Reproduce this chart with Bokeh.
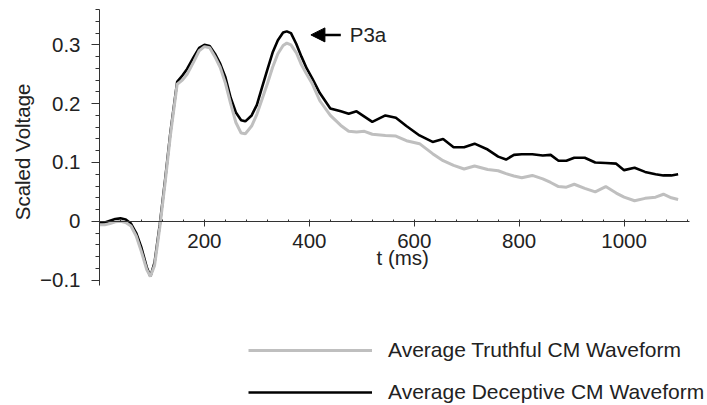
from bokeh.plotting import figure
from bokeh.models import FixedTicker, Legend, LegendItem, Arrow, NormalHead, Label, Title
from bokeh.embed import file_html
from bokeh.resources import INLINE

# ---- data ----
t_ms = [0, 10, 20, 30, 40, 50, 60, 70, 80, 90, 97, 105, 115, 125, 135, 148, 158, 167,
        180, 190, 200, 210, 220, 230, 240, 250, 260, 270, 278, 290, 300, 310, 320, 330,
        340, 350, 357, 365, 375, 385, 395, 405, 420, 440, 460, 475, 490, 505, 520, 545,
        565, 585, 610, 635, 655, 675, 695, 715, 740, 760, 775, 790, 805, 825, 845, 860,
        875, 890, 905, 925, 945, 965, 985, 1000, 1020, 1040, 1060, 1075, 1090, 1103]

deceptive = [-0.003, -0.002, 0.001, 0.004, 0.005, 0.003, -0.004, -0.020, -0.045, -0.078,
             -0.094, -0.070, -0.005, 0.070, 0.150, 0.237, 0.248, 0.259,
             0.280, 0.295, 0.300, 0.298, 0.285, 0.268, 0.245, 0.210, 0.185, 0.172, 0.170,
             0.180, 0.198, 0.228, 0.258, 0.287,
             0.308, 0.321, 0.323, 0.320, 0.302, 0.280, 0.260, 0.244, 0.218, 0.192, 0.187,
             0.183, 0.187, 0.178, 0.169, 0.180,
             0.176, 0.162, 0.146, 0.135, 0.140, 0.126, 0.126, 0.132, 0.122, 0.110, 0.105,
             0.113, 0.114, 0.114, 0.112, 0.113,
             0.103, 0.103, 0.108, 0.108, 0.100, 0.099, 0.098, 0.087, 0.091, 0.084, 0.080,
             0.078, 0.078, 0.080]

truthful = [-0.006, -0.006, -0.004, -0.001, 0.000, -0.002, -0.008, -0.025, -0.052, -0.082,
            -0.094, -0.075, -0.010, 0.065, 0.145, 0.233, 0.240, 0.250,
            0.272, 0.290, 0.297, 0.295, 0.280, 0.262, 0.235, 0.200, 0.168, 0.150, 0.149,
            0.162, 0.182, 0.208, 0.234, 0.262,
            0.285, 0.299, 0.303, 0.300, 0.287, 0.266, 0.250, 0.235, 0.205, 0.180, 0.163,
            0.153, 0.152, 0.153, 0.148, 0.146,
            0.145, 0.137, 0.132, 0.115, 0.103, 0.095, 0.089, 0.094, 0.088, 0.086, 0.081,
            0.077, 0.074, 0.078, 0.072, 0.066,
            0.059, 0.058, 0.063, 0.056, 0.050, 0.059, 0.048, 0.041, 0.035, 0.039, 0.041,
            0.046, 0.040, 0.037]

x_ticks = [200, 400, 600, 800, 1000]
x_tick_labels = ["200", "400", "600", "800", "1000"]
y_ticks = [-0.1, 0.0, 0.1, 0.2, 0.3]
y_tick_labels = ["\u22120.1", "0", "0.1", "0.2", "0.3"]

x_title = "t (ms)"
y_title = "Scaled Voltage"
series_labels = ["Average Truthful CM Waveform", "Average Deceptive CM Waveform"]
annotation_text = "P3a"
annotation_peak_ms = 403
annotation_tail_ms = 460
annotation_text_ms = 477
annotation_level = 0.317

FONT = "Liberation Sans"
TXT = "#222222"
AX = "#333333"

p = figure(width=707, height=405, x_range=(0, 1159), y_range=(-0.3133, 0.3755),
           output_backend="svg", toolbar_location=None,
           min_border_left=99, min_border_right=0, min_border_top=0, min_border_bottom=0)
p.outline_line_color = None
p.xgrid.visible = False
p.ygrid.visible = False
p.background_fill_color = "white"
p.border_fill_color = "white"

black_r = p.line(t_ms, deceptive, line_color="black", line_width=2.6)
gray_r = p.line(t_ms, truthful, line_color="#bfbfbf", line_width=3)

# x axis (drawn along y = 0)
xa = p.xaxis[0]
xa.fixed_location = 0
xa.bounds = (-24.8, 1125)
xa.ticker = FixedTicker(ticks=x_ticks, minor_ticks=[40 * k for k in range(1, 29)])
xa.major_label_overrides = dict(zip(x_ticks, x_tick_labels))
xa.major_tick_in = 0
xa.major_tick_out = 5
xa.minor_tick_in = 2
xa.minor_tick_out = 0
xa.major_label_standoff = 8

# y axis
ya = p.yaxis[0]
ya.bounds = (-0.11, 0.36)
ya.ticker = FixedTicker(ticks=y_ticks, minor_ticks=[round(-0.1 + 0.02 * k, 2) for k in range(0, 24)])
ya.major_label_overrides = dict(zip(y_ticks, y_tick_labels))
ya.major_tick_in = 0
ya.major_tick_out = 8
ya.minor_tick_in = 0
ya.minor_tick_out = 4
ya.major_label_standoff = 11

for ax in (xa, ya):
    ax.axis_line_color = AX
    ax.major_tick_line_color = AX
    ax.minor_tick_line_color = AX
    ax.axis_line_width = 1
    ax.major_label_text_font = FONT
    ax.major_label_text_font_size = "20.5px"
    ax.major_label_text_color = TXT

# axis titles
p.add_layout(Label(x=578, y=-0.0616, text=x_title, text_font=FONT, text_font_size="20.5px",
                   text_color=TXT, text_align="center", text_baseline="middle"))
p.add_layout(Title(text=y_title, align="right", offset=83, standoff=8,
                   text_font=FONT, text_font_size="20.5px", text_font_style="normal",
                   text_color=TXT), "left")

# annotation
p.add_layout(Arrow(end=NormalHead(size=14, fill_color="black", line_color="black"),
                   x_start=annotation_tail_ms, y_start=annotation_level,
                   x_end=annotation_peak_ms, y_end=annotation_level,
                   line_color="black", line_width=2.5))
p.add_layout(Label(x=annotation_text_ms, y=annotation_level, text=annotation_text,
                   text_font=FONT, text_font_size="20.5px", text_color=TXT,
                   text_baseline="middle"))

legend = Legend(items=[LegendItem(label=series_labels[0], renderers=[gray_r]),
                       LegendItem(label=series_labels[1], renderers=[black_r])],
                location=(149, 1), orientation="vertical",
                glyph_width=124, glyph_height=16, label_height=16, spacing=18,
                label_standoff=16, padding=0, margin=0,
                border_line_color=None, background_fill_alpha=0,
                label_text_font=FONT, label_text_font_size="21px", label_text_color=TXT)
p.add_layout(legend)

open("out.html", "w").write(file_html(p, INLINE))
